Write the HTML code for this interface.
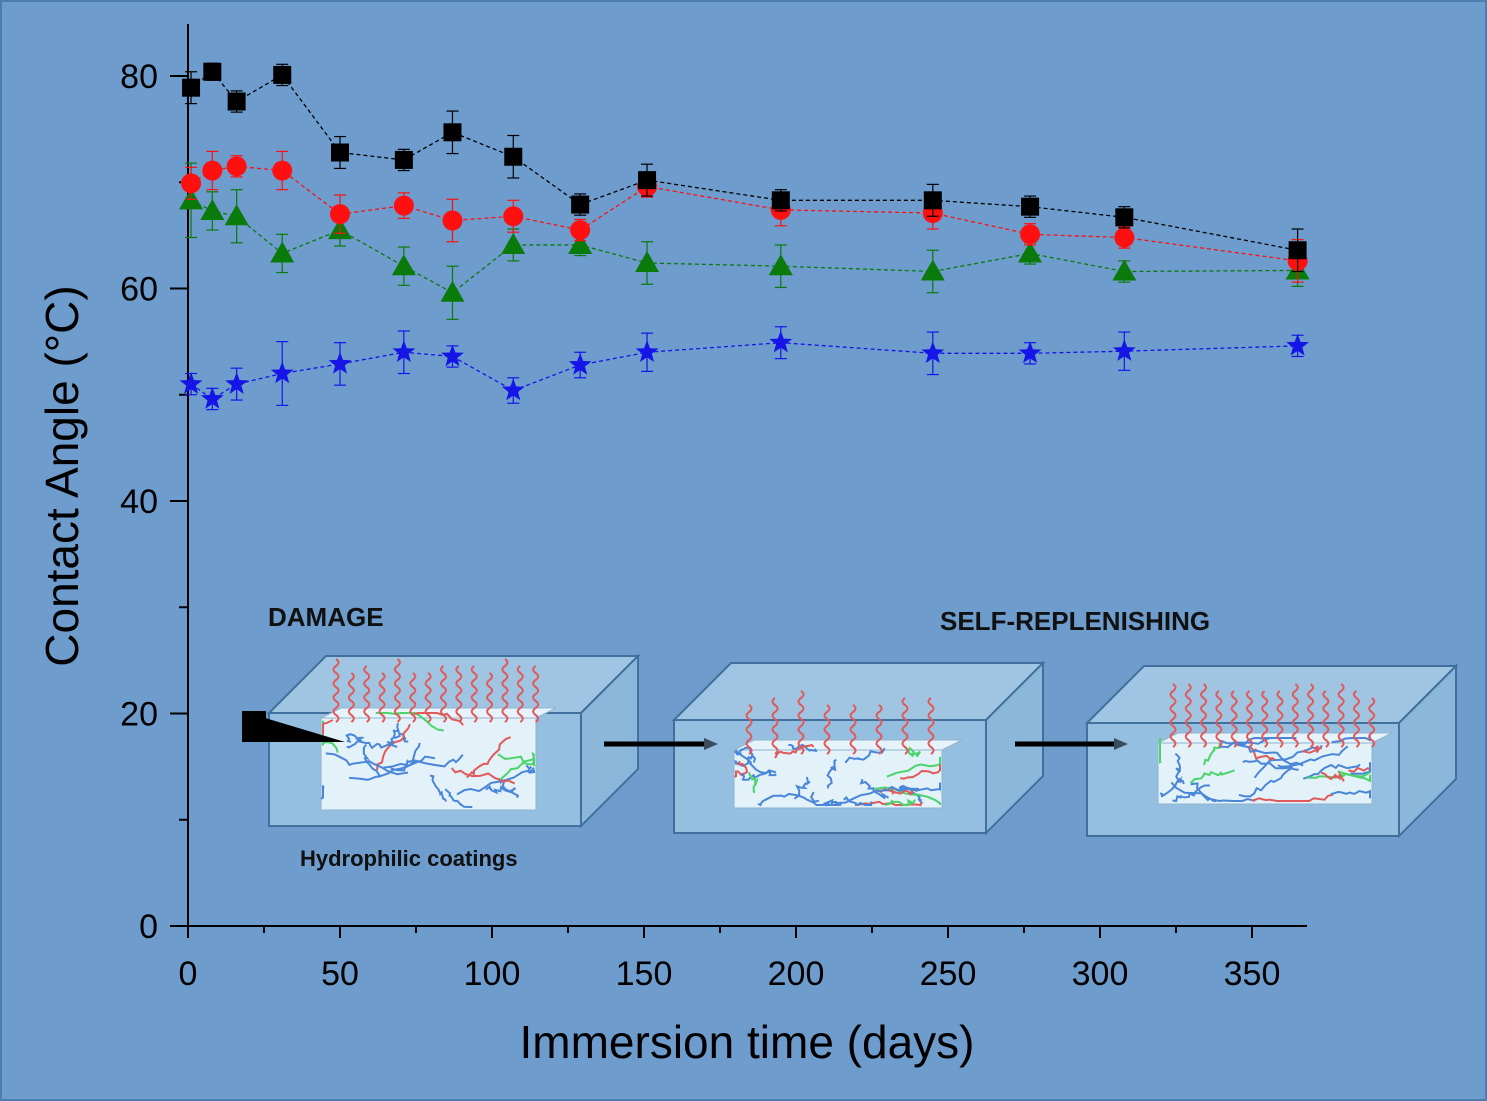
<!DOCTYPE html>
<html><head><meta charset="utf-8"><style>
html,body{margin:0;padding:0;background:#6d9ccd;}
svg{display:block;font-family:"Liberation Sans",sans-serif;}
</style></head><body>
<svg id="chart" width="1487" height="1101" viewBox="0 0 1487 1101">
<rect x="1" y="1" width="1485" height="1099" fill="#6d9ccd" stroke="#4d7db0" stroke-width="2"/>
<g id="illus"></g>
<g id="axes"></g>
<g id="series"></g>
<text transform="translate(78,476) rotate(-90)" text-anchor="middle" font-size="46">Contact Angle (°C)</text>
<text x="747" y="1058" text-anchor="middle" font-size="46">Immersion time (days)</text>
<text x="268" y="626" font-size="26" font-weight="bold" fill="#111">DAMAGE</text>
<text x="940" y="630" font-size="26" font-weight="bold" fill="#111">SELF-REPLENISHING</text>
<text x="300" y="866" font-size="22" font-weight="bold" fill="#111">Hydrophilic coatings</text>
</svg>
<script>
const days=[1,8,16,31,50,71,87,107,129,151,195,245,277,308,365];
const blackVals=[78.9,80.4,77.6,80.1,72.8,72.1,74.7,72.4,67.9,70.2,68.3,68.3,67.7,66.7,63.6];
const blackErr=[1.5,0.8,1.0,1.0,1.5,1.0,2.0,2.0,1.0,1.5,1.0,1.5,1.0,1.0,2.0];
const redVals=[69.9,71.1,71.5,71.1,67.0,67.8,66.4,66.8,65.5,69.6,67.4,67.1,65.1,64.8,62.6];
const redErr=[1.5,1.8,1.0,1.8,1.8,1.2,2.0,1.5,1.0,1.0,1.5,1.5,1.0,1.0,2.0];
const greenVals=[68.3,67.3,66.8,63.3,65.5,62.1,59.6,64.1,64.1,62.4,62.1,61.6,63.3,61.6,61.7];
const greenErr=[3.5,1.8,2.5,1.8,1.5,1.8,2.5,1.5,1.0,2.0,2.0,2.0,1.0,1.0,1.5];
const blueVals=[51.0,49.6,51.0,52.0,52.9,54.0,53.6,50.4,52.8,54.0,54.9,53.9,53.9,54.1,54.6];
const blueErr=[1.0,1.0,1.5,3.0,2.0,2.0,1.0,1.2,1.2,1.8,1.5,2.0,1.0,1.8,1.0];
const xTicks=[0,50,100,150,200,250,300,350];
const yTicks=[0,20,40,60,80];
const NS="http://www.w3.org/2000/svg";
const X=d=>188+d*3.04, Y=v=>926-v*10.625;
function mk(tag,at,parent){const e=document.createElementNS(NS,tag);for(const k in at)e.setAttribute(k,at[k]);parent.appendChild(e);return e;}
const ax=document.getElementById('axes');
let l=mk('line',{x1:188,y1:926,x2:1307,y2:926,stroke:'#000','stroke-width':2},ax);


l=mk('line',{x1:188,y1:926,x2:188,y2:24,stroke:'#000','stroke-width':2},ax);


for(let d=0;d<=360;d+=25){const major=d%50===0;mk('line',{x1:X(d),y1:926,x2:X(d),y2:926+(major?12:7),stroke:'#000','stroke-width':2},ax);}
xTicks.forEach(t=>{const e=mk('text',{x:X(t),y:985,'text-anchor':'middle','font-size':34},ax);e.textContent=t;

});
for(let v=0;v<=84;v+=10){const major=v%20===0;mk('line',{x1:188,y1:Y(v),x2:188-(major?18:9),y2:Y(v),stroke:'#000','stroke-width':2},ax);}
yTicks.forEach(t=>{const e=mk('text',{x:158,y:Y(t)+12,'text-anchor':'end','font-size':34},ax);e.textContent=t;

});
// illustration
const il=document.getElementById('illus');
let seed=7;function rnd(){seed=(seed*16807)%2147483647;return seed/2147483647;}
function box(fx,fy,ix1,ix2,iy1,iy2,nRed){
 const w=312,h=113,o=57;
 const g=mk('g',{},il);
 
 
 mk('polygon',{points:`${fx},${fy} ${fx+o},${fy-o} ${fx+w+o},${fy-o} ${fx+w},${fy}`,fill:'#a9cde6','fill-opacity':0.85,stroke:'#41709c','stroke-width':2},g);
 mk('polygon',{points:`${fx+w},${fy} ${fx+w+o},${fy-o} ${fx+w+o},${fy+h-o} ${fx+w},${fy+h}`,fill:'#8fbcdc','fill-opacity':0.85,stroke:'#41709c','stroke-width':2},g);
 mk('rect',{x:fx,y:fy,width:w,height:h,fill:'#9cc6e3','fill-opacity':0.85,stroke:'#41709c','stroke-width':2},g);
 mk('polygon',{points:`${ix1},${iy1+10} ${ix1+20},${iy1} ${ix2+20},${iy1} ${ix2},${iy1+10}`,fill:'#e6f3fa',stroke:'#8fb5d0'},g);
 mk('rect',{x:ix1,y:iy1+10,width:ix2-ix1,height:iy2-iy1-10,fill:'#e3f1f9',stroke:'#8fb5d0'},g);
 const cols=['#4a86d8','#4a86d8','#4a86d8','#4ad46a','#e05a5a'];
 for(let i=0;i<26;i++){let x=ix1+rnd()*(ix2-ix1),y=iy1+8+rnd()*(iy2-iy1-12);let p=`M${x},${y}`;const dx=(rnd()-0.5)*30;const dy=(rnd()-0.5)*10;
  for(let k=0;k<12;k++){x+=dx/2+(rnd()-0.5)*8;y+=dy/2+(rnd()-0.5)*8;x=Math.max(ix1+2,Math.min(ix2-2,x));y=Math.max(iy1+5,Math.min(iy2-3,y));p+=` L${x},${y}`;}
  mk('path',{d:p,fill:'none',stroke:cols[i%5],'stroke-width':2},g);}
 for(let i=0;i<nRed;i++){const x=ix1+15+i*(ix2-ix1)/nRed;const top=iy1-48+rnd()*15;let p=`M${x},${iy1+14}`;
  for(let y=iy1+14,s=1;y>top;y-=7,s=-s)p+=` Q${x+s*5},${y-3.5} ${x},${y-7}`;
  mk('path',{d:p,fill:'none',stroke:'#e05a5a','stroke-width':2},g);}
}
box(269,713,321,536,708,810,14);
box(674,720,734,942,740,808,8);
box(1087,723,1158,1372,733,804,14);
mk('polygon',{points:'242,711 345,742 266,742 242,742',fill:'#000'},il);
mk('rect',{x:242,y:711,width:24,height:31,fill:'#000'},il);
[[604,718],[1015,1128]].forEach(a=>{mk('line',{x1:a[0],y1:744,x2:a[1]-12,y2:744,stroke:'#000','stroke-width':5},il);mk('polygon',{points:`${a[1]-14},738 ${a[1]},744 ${a[1]-14},750`,fill:'#3a4d5c'},il);});
// series
const sg=document.getElementById('series');
function marker(shape,x,y,c,g){
 if(shape==='sq')return mk('rect',{x:x-9,y:y-9,width:18,height:18,fill:c},g);
 if(shape==='ci')return mk('circle',{cx:x,cy:y,r:10,fill:c},g);
 if(shape==='tr')return mk('polygon',{points:`${x},${y-12} ${x+12},${y+9} ${x-12},${y+9}`,fill:c},g);
 let p=[];for(let i=0;i<10;i++){const r=i%2?5:12,a=-Math.PI/2+i*Math.PI/5;p.push(`${x+r*Math.cos(a)},${y+r*Math.sin(a)}`);}
 return mk('polygon',{points:p.join(' '),fill:c},g);
}
function series(vals,errs,c,shape,name){
 const g=mk('g',{},sg);
 
 
 mk('polyline',{points:days.map((d,i)=>`${X(d)},${Y(vals[i])}`).join(' '),fill:'none',stroke:c,'stroke-width':1.3,'stroke-dasharray':'4,3'},g);
 days.forEach((d,i)=>{const x=X(d);mk('line',{x1:x,y1:Y(vals[i]+errs[i]),x2:x,y2:Y(vals[i]-errs[i]),stroke:c,'stroke-width':1.2},g);
  [vals[i]+errs[i],vals[i]-errs[i]].forEach(v=>mk('line',{x1:x-6,y1:Y(v),x2:x+6,y2:Y(v),stroke:c,'stroke-width':1.2},g));
  const m=marker(shape,x,Y(vals[i]),c,g);
  
  });
}
series(blueVals,blueErr,'#1515e8','st','blue-star-series');
series(greenVals,greenErr,'#0a7a0a','tr','green-triangle-series');
series(redVals,redErr,'#ff1010','ci','red-circle-series');
series(blackVals,blackErr,'#000','sq','black-square-series');
</script>
</body></html>
